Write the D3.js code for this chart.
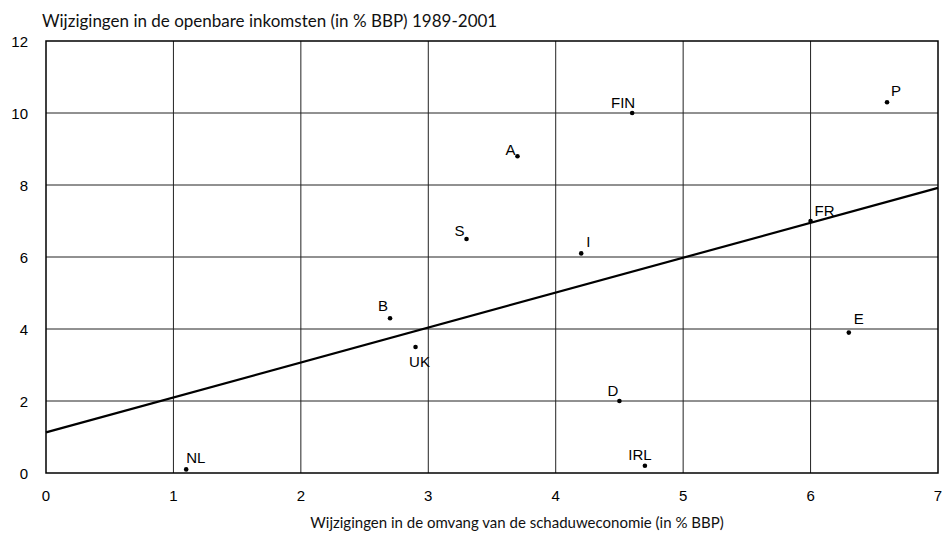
<!DOCTYPE html>
<html lang="nl">
<head>
    <meta charset="UTF-8">
    <title>Schaduweconomie</title>
    <script src="https://cdnjs.cloudflare.com/ajax/libs/d3/7.8.5/d3.min.js"></script>
    <style>
        body { margin: 0; background: #fff; }
    </style>
</head>
<body>
    <div id="chart"></div>
    <script>
        // countries and their values
        var countries = ["NL", "FIN", "P", "FR", "B", "UK", "D", "IRL", "A", "S", "I", "E"];
        var shadowChange = [1.1, 4.6, 6.6, 6.0, 2.7, 2.9, 4.5, 4.7, 3.7, 3.3, 4.2, 6.3];
        var revenueChange = [0.1, 10.0, 10.3, 7.0, 4.3, 3.5, 2.0, 0.2, 8.8, 6.5, 6.1, 3.9];
        // trend line end points
        var trendX = [0, 7];
        var trendY = [1.13, 7.92];
        var xTicks = [0, 1, 2, 3, 4, 5, 6, 7];
        var yTicks = [0, 2, 4, 6, 8, 10, 12];

        // label offsets relative to the dot (dx, dy, anchor)
        var labelPos = {
            NL: [0, -6, "start"], FIN: [3, -5, "end"], P: [4, -6, "start"],
            FR: [4, -5, "start"], B: [-2, -7, "end"], UK: [4, 20, "middle"],
            D: [-1, -5, "end"], IRL: [-5, -6, "middle"], A: [-2, -1, "end"],
            S: [-2, -3, "end"], I: [5, -6, "start"], E: [5, -9, "start"]
        };

        var w = 943, h = 534;
        var mLeft = 46, mRight = 938, mTop = 41, mBottom = 473;

        var x = d3.scaleLinear().domain([0, 7]).range([mLeft, mRight]);
        var y = d3.scaleLinear().domain([0, 12]).range([mBottom, mTop]);

        var svg = d3.select("#chart").append("svg")
            .attr("width", w)
            .attr("height", h);

        // grid
        svg.append("g").selectAll("line")
            .data(xTicks.slice(1, -1))
            .enter().append("line")
            .attr("x1", d => x(d)).attr("x2", d => x(d))
            .attr("y1", mTop).attr("y2", mBottom)
            .attr("stroke", "#222").attr("stroke-width", 1);
        svg.append("g").selectAll("line")
            .data(yTicks.slice(1, -1))
            .enter().append("line")
            .attr("y1", d => y(d)).attr("y2", d => y(d))
            .attr("x1", mLeft).attr("x2", mRight)
            .attr("stroke", "#222").attr("stroke-width", 1);

        svg.append("rect")
            .attr("x", mLeft).attr("y", mTop)
            .attr("width", mRight - mLeft).attr("height", mBottom - mTop)
            .attr("fill", "none").attr("stroke", "#000").attr("stroke-width", 1.5);

        // tick labels
        svg.append("g").selectAll("text")
            .data(xTicks)
            .enter().append("text")
            .attr("x", d => x(d)).attr("y", mBottom + 28)
            .attr("text-anchor", "middle")
            .attr("font-family", "Liberation Sans, Arial, sans-serif")
            .attr("font-size", "15px")
            .text(d => d);
        svg.append("g").selectAll("text")
            .data(yTicks)
            .enter().append("text")
            .attr("x", 28).attr("y", d => y(d) + 5.5)
            .attr("text-anchor", "end")
            .attr("font-family", "Liberation Sans, Arial, sans-serif")
            .attr("font-size", "15px")
            .text(d => d);

        // trend line
        svg.append("line")
            .attr("x1", x(trendX[0])).attr("y1", y(trendY[0]))
            .attr("x2", x(trendX[1])).attr("y2", y(trendY[1]))
            .attr("stroke", "#000").attr("stroke-width", 2.2);

        // points
        var pts = svg.append("g").selectAll("g")
            .data(countries)
            .enter().append("g");
        pts.append("circle")
            .attr("cx", (d, i) => x(shadowChange[i]))
            .attr("cy", (d, i) => y(revenueChange[i]))
            .attr("r", 2.3)
            .attr("fill", "#000");
        pts.append("text")
            .attr("x", (d, i) => x(shadowChange[i]) + labelPos[d][0])
            .attr("y", (d, i) => y(revenueChange[i]) + labelPos[d][1])
            .attr("text-anchor", d => labelPos[d][2])
            .attr("font-family", "Liberation Sans, Arial, sans-serif")
            .attr("font-size", "15px")
            .text(d => d);

        // titles
        svg.append("text")
            .attr("x", 42).attr("y", 27)
            .attr("font-family", "Lato, sans-serif")
            .attr("font-size", "17px")
            .attr("fill", "#111")
            .text("Wijzigingen in de openbare inkomsten (in % BBP) 1989-2001");
        svg.append("text")
            .attr("x", (mLeft + mRight) / 2 + 25).attr("y", 528)
            .attr("text-anchor", "middle")
            .attr("font-family", "Lato, sans-serif")
            .attr("font-size", "15px")
            .attr("fill", "#111")
            .text("Wijzigingen in de omvang van de schaduweconomie (in % BBP)");
    </script>
</body>
</html>
